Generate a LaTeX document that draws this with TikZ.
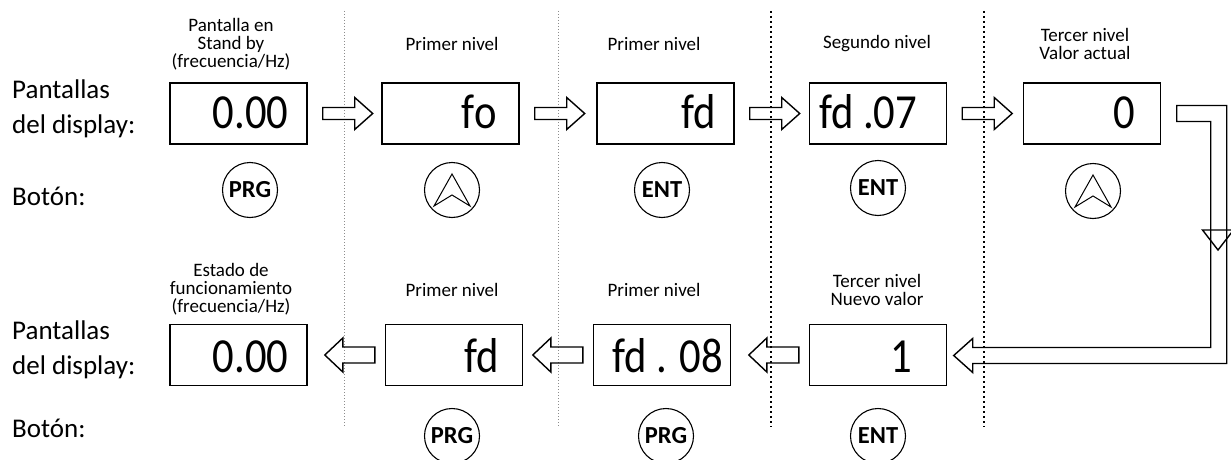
\documentclass[tikz,border=0pt]{standalone}
\usepackage{fontspec}
\setmainfont{Carlito}
\newfontfamily\lcdfont[FakeStretch=0.87]{Carlito}

\begin{document}
\begin{tikzpicture}[x=1pt,y=1pt]
\tikzstyle{display}=[draw,line width=1.4pt,minimum width=137pt,minimum height=61pt,inner sep=0pt]
\tikzstyle{readout}=[anchor=base east,inner sep=0pt,font=\lcdfont\fontsize{49}{49}\selectfont]
\tikzstyle{stage}=[align=center,inner sep=0pt,font=\fontsize{19}{18}\selectfont]
\tikzstyle{rowname}=[anchor=west,align=left,inner sep=0pt,font=\fontsize{27}{35}\selectfont]
\tikzstyle{button}=[draw,circle,line width=1.1pt,minimum size=55pt,inner sep=0pt,font=\bfseries\fontsize{24.5}{24.5}\selectfont]
\tikzstyle{hollow}=[line width=1.4pt,line join=miter]
\tikzstyle{divider}=[line width=0.7pt,black!45,dash pattern=on 0.7pt off 2.3pt]
\tikzstyle{darkdivider}=[line width=1.6pt,dash pattern=on 1.6pt off 3.4pt]
\useasboundingbox (0,0) rectangle (1231,459);

% column separators
\foreach \x in {344,558}
  \draw[divider] (\x,448) -- (\x,32);
\foreach \x in {771,984}
  \draw[darkdivider] (\x,448) -- (\x,32);

% row names
\node[rowname] (screens1) at (12,350.5) {Pantallas\\del display:};
\node[rowname,anchor=base west] (keys1) at (12,254) {Botón:};
\node[rowname] (screens2) at (12,109.5) {Pantallas\\del display:};
\node[rowname,anchor=base west] (keys2) at (12,22) {Botón:};

% upper row of displays
\node[display] (standby) at (238.5,345.5) {};
\node[display] (fo) at (450.5,345.5) {};
\node[display] (fd) at (665.5,345.5) {};
\node[display] (fdsub) at (878,345.5) {};
\node[display] (cur) at (1092,345.5) {};
\node[readout] (v1) at ([shift={(-19,-14.5)}]standby.east) {0.00};
\node[readout] (v2) at ([shift={(-23,-14.5)}]fo.east) {fo};
\node[readout] (v3) at ([shift={(-19,-14.5)}]fd.east) {fd};
\node[readout] (v4) at ([shift={(-30,-14.5)}]fdsub.east) {fd .07};
\node[readout] (v5) at ([shift={(-26,-14.5)}]cur.east) {0};

% lower row of displays
\node[display] (run) at (238.5,104) {};
\node[display] (fdret) at (454,104) {};
\node[display] (fdnew) at (662,104) {};
\node[display] (new) at (878,104) {};
\node[readout] (w1) at ([shift={(-19,-17.5)}]run.east) {0.00};
\node[readout] (w2) at ([shift={(-24,-17.5)}]fdret.east) {fd};
\node[readout] (w3) at ([shift={(-8,-17.5)}]fdnew.east) {fd . 08};
\node[readout] (w4) at ([shift={(-35,-17.5)}]new.east) {1};

% what each display shows
\node[stage] (s1) at (231,415) {Pantalla en\\Stand by\\(frecuencia/Hz)};
\node[stage] (s2) at (452,415) {Primer nivel};
\node[stage] (s3) at (654,415) {Primer nivel};
\node[stage] (s4) at (877,415) {Segundo nivel};
\node[stage] (s5) at (1085,415) {Tercer nivel\\Valor actual};
\node[stage] (t1) at (231,169.5) {Estado de\\funcionamiento\\(frecuencia/Hz)};
\node[stage] (t2) at (452,169.5) {Primer nivel};
\node[stage] (t3) at (654,169.5) {Primer nivel};
\node[stage] (t4) at (877,169.5) {Tercer nivel\\Nuevo valor};

% keys to press
\node[button] (prg1) at (250,269) {PRG};
\node[button] (up1) at (452,269) {};
\node[button] (ent1) at (662,269) {ENT};
\node[button] (ent2) at (878,271) {ENT};
\node[button] (up2) at (1093,268) {};
\node[button] (prg2) at (452,23) {PRG};
\node[button] (prg3) at (666,23) {PRG};
\node[button] (ent3) at (878,23) {ENT};
\foreach \k in {up1,up2}
  \draw[line width=1pt,line join=miter] (\k.center) ++(0,16) -- ++(-18,-32) -- ++(18,11) -- ++(18,-11) -- cycle;

% block arrows
\foreach \a in {standby,fo,fd,fdsub}
  \draw[hollow] ([shift={(15,-6)}]\a.east) -- ++(32,0) -- ++(0,-10) -- ++(18,16) -- ++(-18,16) -- ++(0,-10) -- ++(-32,0) -- cycle;
\foreach \a in {fdret,fdnew,new}
  \draw[hollow] ([shift={(-10,8)}]\a.west) -- ++(-32,0) -- ++(0,9) -- ++(-18,-17) -- ++(18,-17) -- ++(0,9) -- ++(32,0) -- cycle;
\draw[hollow] ([shift={(15.5,8)}]cur.east) -- ++(50,0) -- ++(0,-258) -- ++(-254,0) -- ++(0,-9) -- ++(-19,17) -- ++(19,17) -- ++(0,-9) -- ++(238,0) -- ++(0,226) -- ++(-34,0) -- cycle;
\draw[hollow] (1202.5,229) -- (1233.5,229) -- (1218,209) -- cycle;
\end{tikzpicture}
\end{document}
